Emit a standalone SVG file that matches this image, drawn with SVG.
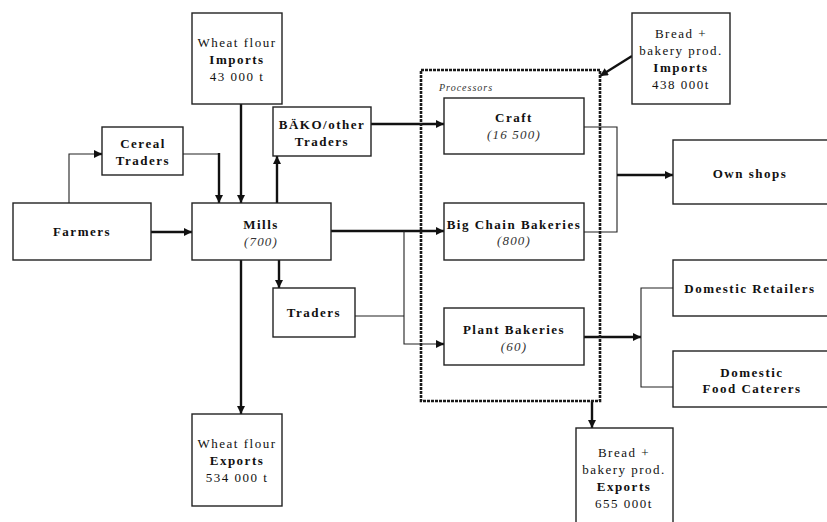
<svg xmlns="http://www.w3.org/2000/svg" width="827" height="522" viewBox="0 0 827 522">
<defs>
<marker id="ah" viewBox="0 0 10 10" refX="10" refY="5" markerWidth="9" markerHeight="8" markerUnits="userSpaceOnUse" orient="auto">
<path d="M0,0 L10,5 L0,10 z" fill="#111"/>
</marker>
</defs>
<style>
text{font-family:"Liberation Serif","Times New Roman",serif;font-size:13px;letter-spacing:1.5px;fill:#111;text-anchor:middle}
.b{font-weight:bold}
.i{font-style:italic;letter-spacing:1.2px;fill:#333}
.box{fill:#fff;stroke:#222;stroke-width:1.4}
.thick{fill:none;stroke:#111;stroke-width:2.4}
.thin{fill:none;stroke:#222;stroke-width:1.1}
.proc{fill:none;stroke:#1a1a1a;stroke-width:2.6;stroke-dasharray:3 1}
</style>
<rect width="827" height="522" fill="#fff"/>

<g id="connectors">
<polyline class="thin" points="69,203 69,154 100,154"/>
<line class="thick" x1="96" y1="154" x2="102" y2="154" marker-end="url(#ah)"/>
<polyline class="thin" points="183,154 219,154"/>
<line class="thick" x1="219" y1="153" x2="219" y2="203" marker-end="url(#ah)"/>
<line class="thick" x1="241" y1="104" x2="241" y2="203" marker-end="url(#ah)"/>
<line class="thick" x1="151" y1="232" x2="192" y2="232" marker-end="url(#ah)"/>
<line class="thick" x1="277" y1="203" x2="277" y2="156" marker-end="url(#ah)"/>
<line class="thick" x1="371" y1="124" x2="444" y2="124" marker-end="url(#ah)"/>
<line class="thick" x1="331" y1="231" x2="444" y2="231" marker-end="url(#ah)"/>
<polyline class="thin" points="404,231 404,344 440,344"/>
<line class="thick" x1="436" y1="344" x2="444" y2="344" marker-end="url(#ah)"/>
<line class="thin" x1="355" y1="316" x2="404" y2="316"/>
<line class="thick" x1="279" y1="260" x2="279" y2="288" marker-end="url(#ah)"/>
<line class="thick" x1="241" y1="260" x2="241" y2="414" marker-end="url(#ah)"/>
<polyline class="thin" points="584,127 617,127 617,232 584,232"/>
<line class="thick" x1="617" y1="175" x2="673" y2="175" marker-end="url(#ah)"/>
<line class="thick" x1="584" y1="337" x2="641" y2="337" marker-end="url(#ah)"/>
<polyline class="thin" points="673,288 641,288 641,387 673,387"/>
<line class="thick" x1="592" y1="401" x2="592" y2="428" marker-end="url(#ah)"/>
<line class="thick" x1="632" y1="56" x2="600" y2="76" marker-end="url(#ah)"/>
</g>

<g id="processors">
<rect class="proc" x="421" y="70" width="179" height="331"/>
<text class="i" x="439" y="91" style="font-size:10px;letter-spacing:1px;text-anchor:start">Processors</text>
</g>

<g id="wheat-imports">
<rect class="box" x="192" y="13" width="90" height="91"/>
<text x="237" y="47">Wheat flour</text>
<text class="b" x="237" y="64">Imports</text>
<text x="237" y="81">43 000 t</text>
</g>

<g id="cereal-traders">
<rect class="box" x="102" y="127" width="81" height="48"/>
<text class="b" x="143" y="148">Cereal</text>
<text class="b" x="143" y="165">Traders</text>
</g>

<g id="farmers">
<rect class="box" x="13" y="203" width="138" height="57"/>
<text class="b" x="82" y="236">Farmers</text>
</g>

<g id="mills">
<rect class="box" x="192" y="203" width="139" height="57"/>
<text class="b" x="261" y="229">Mills</text>
<text class="i" x="261" y="246">(700)</text>
</g>

<g id="bako">
<rect class="box" x="273" y="107" width="98" height="49"/>
<text class="b" x="322" y="129">BÄKO/other</text>
<text class="b" x="322" y="146">Traders</text>
</g>

<g id="traders">
<rect class="box" x="273" y="288" width="82" height="49"/>
<text class="b" x="314" y="317">Traders</text>
</g>

<g id="wheat-exports">
<rect class="box" x="192" y="414" width="90" height="92"/>
<text x="237" y="448">Wheat flour</text>
<text class="b" x="237" y="465">Exports</text>
<text x="237" y="482">534 000 t</text>
</g>

<g id="craft">
<rect class="box" x="444" y="98" width="140" height="56"/>
<text class="b" x="514" y="122">Craft</text>
<text class="i" x="514" y="139">(16 500)</text>
</g>

<g id="big-chain">
<rect class="box" x="444" y="203" width="140" height="57"/>
<text class="b" x="514" y="229">Big Chain Bakeries</text>
<text class="i" x="514" y="245">(800)</text>
</g>

<g id="plant">
<rect class="box" x="444" y="308" width="140" height="57"/>
<text class="b" x="514" y="334">Plant Bakeries</text>
<text class="i" x="514" y="351">(60)</text>
</g>

<g id="bread-imports">
<rect class="box" x="632" y="13" width="98" height="91"/>
<text x="681" y="38">Bread +</text>
<text x="681" y="55">bakery prod.</text>
<text class="b" x="681" y="72">Imports</text>
<text x="681" y="89">438 000t</text>
</g>

<g id="own-shops">
<rect class="box" x="673" y="140" width="160" height="64"/>
<text class="b" x="750" y="178">Own shops</text>
</g>

<g id="domestic-retailers">
<rect class="box" x="673" y="260" width="160" height="56"/>
<text class="b" x="750" y="293">Domestic Retailers</text>
</g>

<g id="food-caterers">
<rect class="box" x="673" y="351" width="160" height="56"/>
<text class="b" x="752" y="377">Domestic</text>
<text class="b" x="752" y="393">Food Caterers</text>
</g>

<g id="bread-exports">
<rect class="box" x="576" y="428" width="97" height="100"/>
<text x="624" y="457">Bread +</text>
<text x="624" y="474">bakery prod.</text>
<text class="b" x="624" y="491">Exports</text>
<text x="624" y="508">655 000t</text>
</g>
</svg>
